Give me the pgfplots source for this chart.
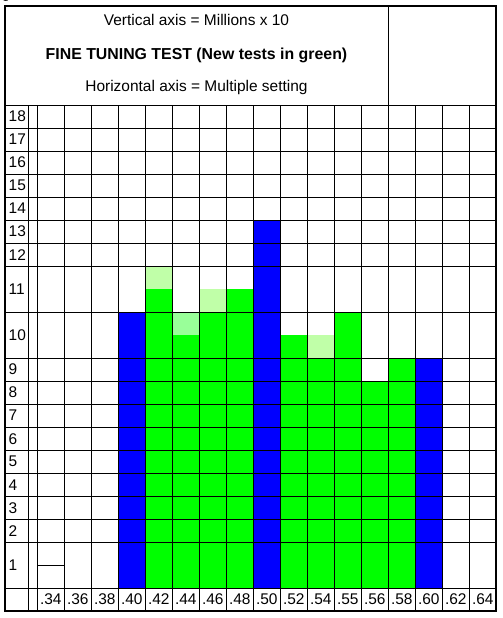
\documentclass[border=0pt]{standalone}
\usepackage{pgfplots}
\pgfplotsset{compat=1.18}
\usepackage{fontspec}
\setmainfont{Liberation Sans}

\definecolor{cblue}{RGB}{0,0,255}
\definecolor{cgreen}{RGB}{0,255,0}
\definecolor{clightA}{RGB}{192,255,168}
\definecolor{clightB}{RGB}{153,255,153}

% heights are in half-row grid units (rows 1, 10 and 11 are double height)
\begin{document}
\fontsize{11.6pt}{13pt}\selectfont
\begin{tikzpicture}[font=\fontsize{11.6pt}{13pt}\selectfont]
\begin{axis}[
    at={(0,0)}, anchor=origin,
    x=20.25pt, y=17.2575pt,
    xmin=-1.196, xmax=17,
    ymin=-0.98, ymax=21,
    axis on top,
    clip=false,
    axis line style={draw=none},
    xtick={-0.319,0,1,...,16},
    ytick={0,2,3,4,5,6,7,8,9,10,12,14,15,16,17,18,19,20,21},
    xticklabels={}, yticklabels={},
    major tick length=0pt,
    grid=major,
    major grid style={black, line width=0.75pt},
  ]
  % lighter tops (new tests)
  \addplot[ybar, bar width=1, bar shift=0, fill=clightA, draw=none]
    coordinates {(4.5,14) (6.5,13) (10.5,11)};
  \addplot[ybar, bar width=1, bar shift=0, fill=clightB, draw=none]
    coordinates {(5.5,12)};
  % green bars
  \addplot[ybar, bar width=1, bar shift=0, fill=cgreen, draw=none]
    coordinates {(4.5,13) (5.5,11) (6.5,12) (7.5,13) (9.5,11) (10.5,10)
                 (11.5,12) (12.5,9) (13.5,10)};
  % blue bars
  \addplot[ybar, bar width=1, bar shift=0, fill=cblue, draw=none]
    coordinates {(3.5,12) (8.5,16) (14.5,10)};
  % small mark in .34 column
  \addplot[black, line width=0.75pt] coordinates {(0,1) (1,1)};

  % row labels
  \node[anchor=west, inner sep=0] at (axis cs:-1.067,1) {1};
  \node[anchor=west, inner sep=0] at (axis cs:-1.067,2.5) {2};
  \node[anchor=west, inner sep=0] at (axis cs:-1.067,3.5) {3};
  \node[anchor=west, inner sep=0] at (axis cs:-1.067,4.5) {4};
  \node[anchor=west, inner sep=0] at (axis cs:-1.067,5.5) {5};
  \node[anchor=west, inner sep=0] at (axis cs:-1.067,6.5) {6};
  \node[anchor=west, inner sep=0] at (axis cs:-1.067,7.5) {7};
  \node[anchor=west, inner sep=0] at (axis cs:-1.067,8.5) {8};
  \node[anchor=west, inner sep=0] at (axis cs:-1.067,9.5) {9};
  \node[anchor=west, inner sep=0] at (axis cs:-1.067,11) {10};
  \node[anchor=west, inner sep=0] at (axis cs:-1.067,13) {11};
  \node[anchor=west, inner sep=0] at (axis cs:-1.067,14.5) {12};
  \node[anchor=west, inner sep=0] at (axis cs:-1.067,15.5) {13};
  \node[anchor=west, inner sep=0] at (axis cs:-1.067,16.5) {14};
  \node[anchor=west, inner sep=0] at (axis cs:-1.067,17.5) {15};
  \node[anchor=west, inner sep=0] at (axis cs:-1.067,18.5) {16};
  \node[anchor=west, inner sep=0] at (axis cs:-1.067,19.5) {17};
  \node[anchor=west, inner sep=0] at (axis cs:-1.067,20.5) {18};

  % column labels
  \node at (axis cs:0.5,-0.465) {.34};
  \node at (axis cs:1.5,-0.465) {.36};
  \node at (axis cs:2.5,-0.465) {.38};
  \node at (axis cs:3.5,-0.465) {.40};
  \node at (axis cs:4.5,-0.465) {.42};
  \node at (axis cs:5.5,-0.465) {.44};
  \node at (axis cs:6.5,-0.465) {.46};
  \node at (axis cs:7.5,-0.465) {.48};
  \node at (axis cs:8.5,-0.465) {.50};
  \node at (axis cs:9.5,-0.465) {.52};
  \node at (axis cs:10.5,-0.465) {.54};
  \node at (axis cs:11.5,-0.465) {.55};
  \node at (axis cs:12.5,-0.465) {.56};
  \node at (axis cs:13.5,-0.465) {.58};
  \node at (axis cs:14.5,-0.465) {.60};
  \node at (axis cs:15.5,-0.465) {.62};
  \node at (axis cs:16.5,-0.465) {.64};

  % header
  \draw[black, line width=0.75pt] (axis cs:13,21) -- (axis cs:13,25.31);
  \node[anchor=base] at (axis cs:5.896,24.44) {Vertical axis = Millions x 10};
  \node[anchor=base, font=\fontsize{11.9pt}{13pt}\selectfont\bfseries]
    at (axis cs:5.896,22.99) {FINE TUNING TEST (New tests in green)};
  \node[anchor=base] at (axis cs:5.896,21.58) {Horizontal axis = Multiple setting};

  \coordinate (SW) at (axis cs:-1.196,-0.98);
  \coordinate (NE) at (axis cs:17,25.31);
\end{axis}
\draw[black, line width=1.5pt] (SW) rectangle (NE);
\node[anchor=base west, inner sep=0, font=\fontsize{7pt}{7pt}\selectfont]
  at ([shift={(-1.6pt,2.9pt)}]SW|-NE) {1};
\pgfresetboundingbox
\path[use as bounding box] ([shift={(-3.75pt,-5.4pt)}]SW) rectangle ([shift={(5.0pt,4.4pt)}]NE);
\end{tikzpicture}
\end{document}
